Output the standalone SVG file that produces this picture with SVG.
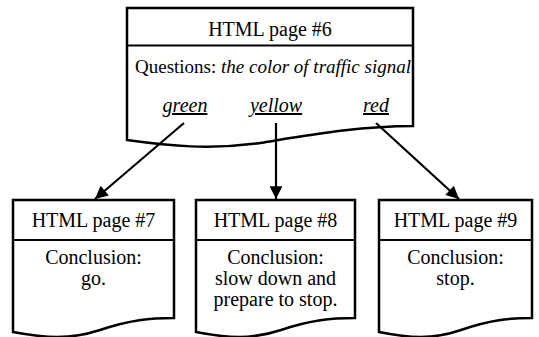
<svg xmlns="http://www.w3.org/2000/svg" width="539" height="337" viewBox="0 0 539 337">
<defs>
<style>
.box{fill:#fff;stroke:#000;stroke-width:2.5;stroke-linejoin:miter}
.div{stroke:#000;stroke-width:2}
.it{font-style:italic}
.u{text-decoration:underline}
.q{font-size:19px}
.conn{stroke:#000;stroke-width:2.2;fill:none;marker-end:url(#ah)}
</style>
<marker id="ah" viewBox="0 0 10 10" refX="10" refY="5" markerWidth="6.8" markerHeight="5.8" orient="auto" markerUnits="strokeWidth">
<path d="M0,0 L10,5 L0,10 z" fill="#000"/>
</marker>
</defs>
<rect width="539" height="337" fill="#fff"/>
<g font-family="Liberation Serif, Times New Roman, serif" font-size="20" text-anchor="middle" fill="#000">
<g id="page6">
<path class="box" d="M127,8 L413,8 L413,126 C360,126 310,135 260,143 C210,150 170,146 127,140 Z"/>
<line class="div" x1="127" y1="45.5" x2="413" y2="45.5"/>
<text x="270" y="36">HTML page #6</text>
<text class="q" x="273" y="73">Questions: <tspan class="it">the color of traffic signal</tspan></text>
<text class="it u" x="185" y="112">green</text>
<text class="it u" x="276" y="112">yellow</text>
<text class="it u" x="376" y="112">red</text>
</g>
<g id="page7">
<path class="box" d="M13,200 L174,200 L174,318 C150,318 130,320 100,330 C70,340 45,338 13,332 Z"/>
<line class="div" x1="13" y1="240" x2="174" y2="240"/>
<text x="93.5" y="227">HTML page #7</text>
<text x="93.5" y="264">Conclusion:</text>
<text x="93.5" y="285">go.</text>
</g>
<g id="page8">
<path class="box" d="M196,200 L355,200 L355,318 C331,318 311,320 281,330 C251,340 227,338 196,332 Z"/>
<line class="div" x1="196" y1="240" x2="355" y2="240"/>
<text x="275.5" y="227">HTML page #8</text>
<text x="275.5" y="264">Conclusion:</text>
<text x="275.5" y="285">slow down and</text>
<text x="275.5" y="306">prepare to stop.</text>
</g>
<g id="page9">
<path class="box" d="M379,200 L532,200 L532,318 C509,318 490,320 461,330 C432,340 409,338 379,332 Z"/>
<line class="div" x1="379" y1="240" x2="532" y2="240"/>
<text x="455.5" y="227">HTML page #9</text>
<text x="455.5" y="264">Conclusion:</text>
<text x="455.5" y="285">stop.</text>
</g>
</g>
<g id="connectors">
<line class="conn" x1="184" y1="123" x2="95" y2="199"/>
<line class="conn" x1="276" y1="123" x2="276" y2="199"/>
<line class="conn" x1="376" y1="123" x2="459" y2="199"/>
</g>
</svg>
